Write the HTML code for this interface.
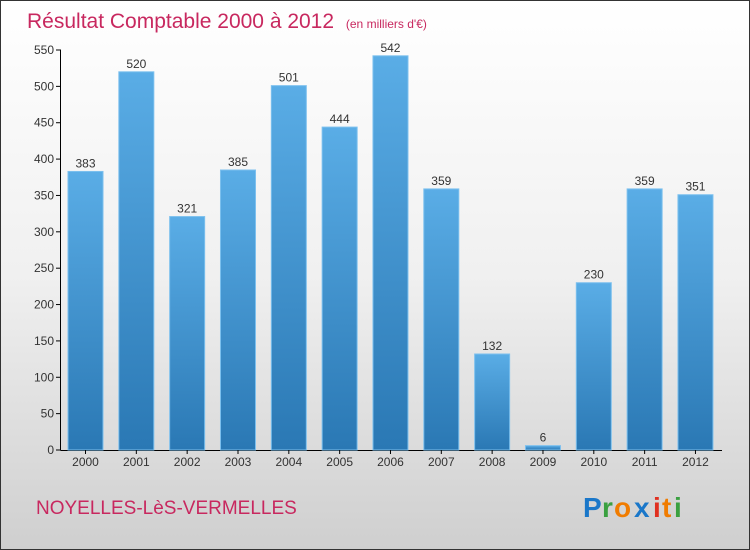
<!DOCTYPE html>
<html><head><meta charset="utf-8"><style>
body{margin:0}
#c{width:748px;height:548px;border:1px solid #333;position:relative;overflow:hidden;background:linear-gradient(#ffffff 0%,#f0f0f0 50%,#cfcfcf 100%);font-family:"Liberation Sans",sans-serif}
</style></head><body>
<div id="c">
<svg width="748" height="548">
<defs><linearGradient id="bg" x1="0" y1="0" x2="0" y2="1"><stop offset="0" stop-color="#5aade6"/><stop offset="1" stop-color="#2a78b4"/></linearGradient></defs>
<text x="26" y="27" font-size="21" fill="#c8285f">Résultat Comptable 2000 à 2012 <tspan font-size="12" dx="6">(en milliers d'€)</tspan></text>
<g id="yaxis"></g>
<g id="bars"></g>
<text x="35" y="513" font-size="19" fill="#c8285f">NOYELLES-LèS-VERMELLES</text>
<g font-size="28" font-weight="bold" font-family="Liberation Sans,sans-serif">
<text x="582" y="516" fill="#1a77c9">P</text><text x="601" y="516" fill="#3aa040">r</text><text x="613" y="516" fill="#f07c00">o</text><text x="633" y="516" fill="#1a77c9">x</text><text x="652" y="516" fill="#e03020">i</text><text x="661" y="516" fill="#f07c00">t</text><text x="673" y="516" fill="#3aa040">i</text>
</g>
</svg>
</div>
<script>
const years=["2000","2001","2002","2003","2004","2005","2006","2007","2008","2009","2010","2011","2012"];
const values=[383,520,321,385,501,444,542,359,132,6,230,359,351];
const yTicks=[0,50,100,150,200,250,300,350,400,450,500,550];
const NS="http://www.w3.org/2000/svg";
const y0=449,yMax=550,pxH=400;
function yS(v){return y0-v/yMax*pxH;}
function xS(i){return 67+i*50.83;}
function mk(t,a,p,txt){const e=document.createElementNS(NS,t);for(const k in a)e.setAttribute(k,a[k]);if(txt!==undefined)e.textContent=txt;p.appendChild(e);return e;}
const ya=document.getElementById('yaxis'),bg=document.getElementById('bars');
mk('line',{x1:59.5,y1:yS(550),x2:59.5,y2:y0,stroke:'#000'},ya);
mk('line',{x1:59.5,y1:y0+0.5,x2:721,y2:y0+0.5,stroke:'#000'},ya);
yTicks.forEach(v=>{
 const l=mk('line',{x1:55,x2:60,y1:yS(v),y2:yS(v),stroke:'#000'},ya);
 
 
 const t=mk('text',{x:53,y:yS(v)+4,'font-size':12,fill:'#333','text-anchor':'end'},ya,v);
 
 
});
values.forEach((v,i)=>{
 const x=xS(i);
 const r=mk('rect',{x:x,y:yS(v),width:35,height:y0-yS(v),fill:'url(#bg)',stroke:'#7cc0ee','stroke-width':1},bg);
 
 
 const t=mk('text',{x:x+17.5,y:yS(v)-4,'font-size':12,fill:'#333','text-anchor':'middle'},bg,v);
 
 
 const tk=mk('line',{x1:x+17.5,x2:x+17.5,y1:y0,y2:y0+4,stroke:'#000'},bg);
 
 
 const xl=mk('text',{x:x+17.5,y:y0+16,'font-size':12,fill:'#333','text-anchor':'middle'},bg,years[i]);
 
 
});
</script>
</body></html>
